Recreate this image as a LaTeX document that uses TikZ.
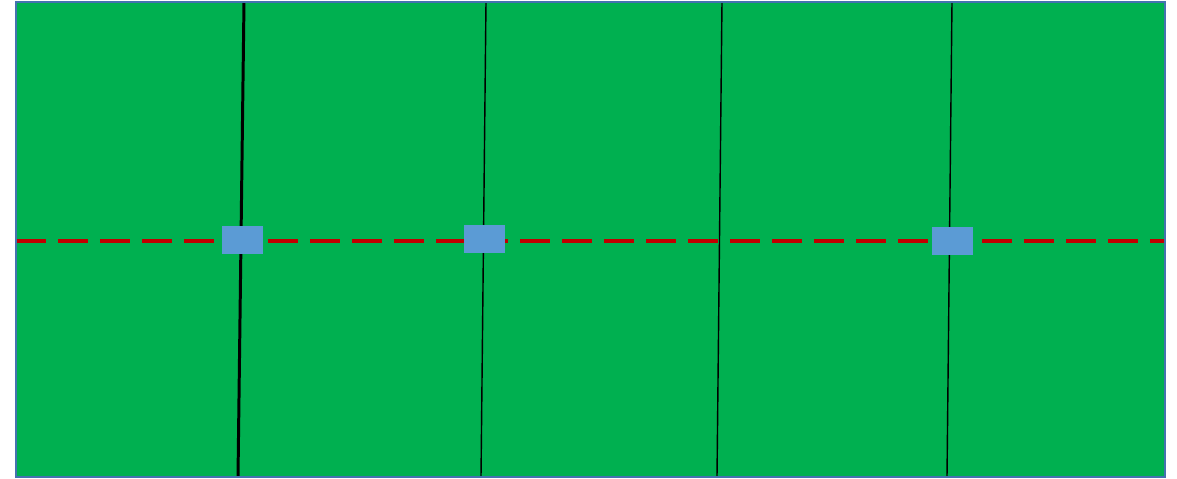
\documentclass[tikz,border=0pt]{standalone}
\definecolor{fieldgreen}{RGB}{0,176,80}
\definecolor{edgeblue}{RGB}{68,114,176}
\definecolor{boxblue}{RGB}{91,155,213}
\definecolor{axisred}{RGB}{192,0,0}
\begin{document}
\begin{tikzpicture}[x=0.02cm,y=-0.02cm,line cap=butt,line join=miter]
  \useasboundingbox (0,0) rectangle (1177,478);
  % Field corners
  \coordinate (A) at (16,2);
  \coordinate (B) at (1165,477);

  % Green field
  \fill[fieldgreen] (A) rectangle (B);

  % Slanted dividers
  \coordinate (T1) at (244,2);   \coordinate (U1) at (238,477);
  \coordinate (T2) at (486,2);   \coordinate (U2) at (481,477);
  \coordinate (T3) at (722,2);   \coordinate (U3) at (717,477);
  \coordinate (T4) at (952,2);   \coordinate (U4) at (947,477);
  \draw[line width=1.7pt] (T1) -- (U1);
  \draw[line width=0.8pt] (T2) -- (U2);
  \draw[line width=0.8pt] (T3) -- (U3);
  \draw[line width=0.8pt] (T4) -- (U4);

  % Dashed centre line
  \coordinate (L) at (16,241);
  \coordinate (R) at (1165,241);
  \draw[axisred,line width=2.3pt,dash pattern=on 0.6cm off 0.24cm] (L) -- (R);

  % Blue blocks on the line
  \fill[boxblue] (222,226) rectangle (263,254);
  \fill[boxblue] (464,225) rectangle (505,253);
  \fill[boxblue] (932,227) rectangle (973,255);

  % Outline
  \draw[edgeblue,line width=1.1pt] (A) rectangle (B);
\end{tikzpicture}
\end{document}
